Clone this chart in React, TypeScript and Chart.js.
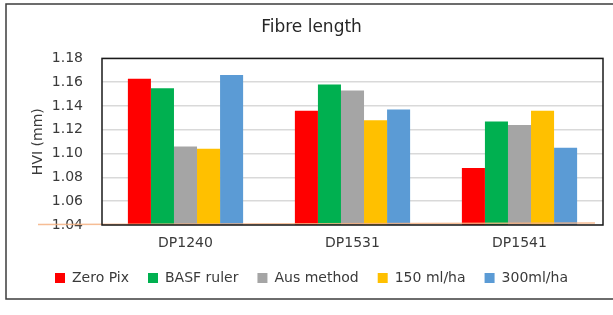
import React, { useEffect, useRef } from "react";
import { Chart, registerables } from "chart.js";

Chart.register(...registerables);

const categories = ["DP1240", "DP1531", "DP1541"];
const seriesNames = ["Zero Pix", "BASF ruler", "Aus method", "150 ml/ha", "300ml/ha"];
const zeroPix = [1.163, 1.136, 1.088];
const basfRuler = [1.155, 1.158, 1.127];
const ausMethod = [1.106, 1.153, 1.124];
const ml150 = [1.104, 1.128, 1.136];
const ml300 = [1.166, 1.137, 1.105];
const seriesColors = ["#FF0000", "#00B050", "#A5A5A5", "#FFC000", "#5B9BD5"];
const yMin = 1.04;
const yMax = 1.18;
const yStep = 0.02;

const FONT = "'DejaVu Sans', sans-serif";
const TEXT = "#3a3a3a";

const framePlugin = {
  id: "frame",
  beforeDraw(chart: any) {
    const ctx = chart.ctx;
    ctx.save();
    ctx.fillStyle = "#ffffff";
    ctx.fillRect(0, 0, chart.width, chart.height);
    ctx.strokeStyle = "#3c3c3c";
    ctx.lineWidth = 1.5;
    ctx.strokeRect(6, 4, chart.width + 10, 295);
    ctx.restore();
  },
  afterDatasetsDraw(chart: any) {
    const ctx = chart.ctx;
    const a = chart.chartArea;
    const y = chart.scales.y.getPixelForValue(yMin);
    ctx.save();
    ctx.strokeStyle = "rgba(244,177,131,0.85)";
    ctx.lineWidth = 1.5;
    ctx.beginPath();
    ctx.moveTo(a.left - 64, y - 0.5);
    ctx.lineTo(a.right - 8, y - 2);
    ctx.stroke();
    ctx.strokeStyle = "#1a1a1a";
    ctx.lineWidth = 1.5;
    ctx.strokeRect(a.left, a.top, a.right - a.left, a.bottom - a.top);
    ctx.restore();
  },
};

export default function App() {
  const ref = useRef<HTMLCanvasElement>(null);
  useEffect(() => {
    if (!ref.current) return;
    const values = [zeroPix, basfRuler, ausMethod, ml150, ml300];
    const chart = new Chart(ref.current, {
      type: "bar",
      data: {
        labels: categories,
        datasets: seriesNames.map((name, i) => ({
          label: name,
          data: values[i],
          backgroundColor: seriesColors[i],
          borderWidth: 0,
          barPercentage: 1,
          categoryPercentage: 0.69,
        })),
      },
      options: {
        responsive: false,
        animation: false,
        layout: { padding: { left: 20, right: 10, top: 0, bottom: 20 } },
        plugins: {
          title: {
            display: true,
            text: "Fibre length",
            color: "#262626",
            font: { family: FONT, size: 17, weight: "normal" },
            padding: { top: 17, bottom: 21 },
          },
          legend: {
            position: "bottom",
            labels: {
              color: TEXT,
              font: { family: FONT, size: 14 },
              boxWidth: 10,
              boxHeight: 10,
              padding: 19,
            },
          },
          tooltip: { enabled: false },
        },
        scales: {
          x: {
            grid: { display: false, drawTicks: false },
            border: { display: false },
            ticks: { color: TEXT, font: { family: FONT, size: 14 }, padding: 10 },
            afterFit: (s: any) => {
              s.height = 27;
            },
          },
          y: {
            min: yMin,
            max: yMax,
            grid: { color: "#d9d9d9", lineWidth: 1.5, drawTicks: false },
            border: { display: false },
            ticks: {
              stepSize: yStep,
              color: TEXT,
              font: { family: FONT, size: 14 },
              padding: 19,
              callback: (v: any) => Number(v).toFixed(2),
            },
            title: {
              display: true,
              text: "HVI (mm)",
              color: TEXT,
              font: { family: FONT, size: 14 },
              padding: { top: 10, bottom: 0 },
            },
            afterFit: (s: any) => {
              s.width = 82;
            },
          },
        },
      },
      plugins: [framePlugin],
    });
    return () => chart.destroy();
  }, []);
  return (
    <div style={{ position: "absolute", left: 0, top: 0, width: 613, height: 315 }}>
      <canvas ref={ref} width={613} height={315} />
    </div>
  );
}
